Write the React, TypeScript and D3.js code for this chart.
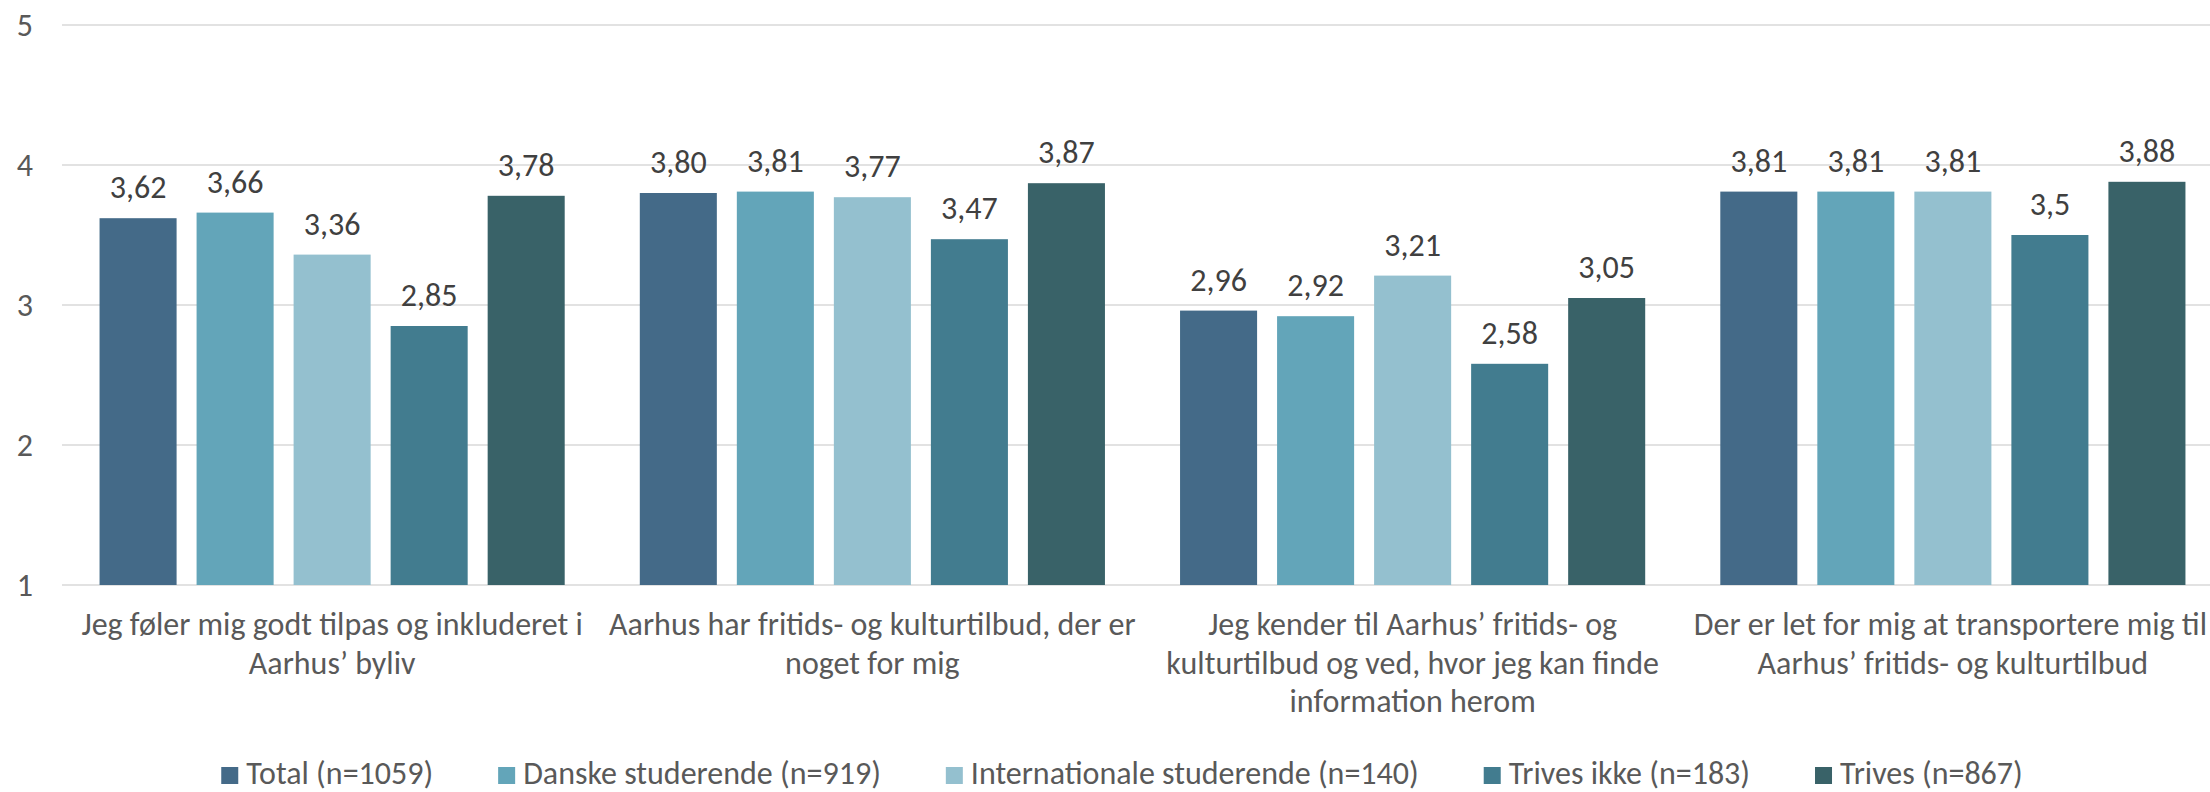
import React, { useEffect, useRef } from "react";
import * as d3 from "d3";

const categories = [
  ["Jeg føler mig godt tilpas og inkluderet i", "Aarhus’ byliv"],
  ["Aarhus har fritids- og kulturtilbud, der er", "noget for mig"],
  ["Jeg kender til Aarhus’ fritids- og", "kulturtilbud og ved, hvor jeg kan finde", "information herom"],
  ["Der er let for mig at transportere mig til", "Aarhus’ fritids- og kulturtilbud"],
];

const seriesNames = [
  "Total (n=1059)",
  "Danske studerende (n=919)",
  "Internationale studerende (n=140)",
  "Trives ikke (n=183)",
  "Trives (n=867)",
];

const seriesColors = ["#446a88", "#63a5b9", "#94c0cf", "#427c8f", "#396268"];

// one array per series, one value per category
const total = [3.62, 3.8, 2.96, 3.81];
const danske = [3.66, 3.81, 2.92, 3.81];
const internationale = [3.36, 3.77, 3.21, 3.81];
const trivesIkke = [2.85, 3.47, 2.58, 3.5];
const trives = [3.78, 3.87, 3.05, 3.88];

// labels as printed on the chart
const totalLabels = ["3,62", "3,80", "2,96", "3,81"];
const danskeLabels = ["3,66", "3,81", "2,92", "3,81"];
const internationaleLabels = ["3,36", "3,77", "3,21", "3,81"];
const trivesIkkeLabels = ["2,85", "3,47", "2,58", "3,5"];
const trivesLabels = ["3,78", "3,87", "3,05", "3,88"];

const yTicks = [1, 2, 3, 4, 5];

const width = 2210;
const height = 792;
const font = "Carlito, Calibri, Lato, sans-serif";
const fontSize = 32;

const App = () => {
  const ref = useRef<SVGSVGElement>(null);

  useEffect(() => {
    const values = [total, danske, internationale, trivesIkke, trives];
    const labels = [totalLabels, danskeLabels, internationaleLabels, trivesIkkeLabels, trivesLabels];

    const svg = d3.select(ref.current);
    svg.selectAll("*").remove();

    const x0 = d3
      .scaleBand<number>()
      .domain(d3.range(categories.length))
      .range([62, 2223]);

    const x1 = d3
      .scaleBand<number>()
      .domain(d3.range(seriesNames.length))
      .range([0, x0.bandwidth()])
      .paddingInner(0.206)
      .paddingOuter(0.387);

    const y = d3.scaleLinear().domain([1, 5]).range([585, 25]);

    // gridlines
    svg
      .append("g")
      .selectAll("line")
      .data(yTicks)
      .join("line")
      .attr("x1", 62)
      .attr("x2", width)
      .attr("y1", (d) => y(d))
      .attr("y2", (d) => y(d))
      .attr("stroke", "#d9d9d9")
      .attr("stroke-width", 1.5);

    // y labels
    svg
      .append("g")
      .selectAll("text")
      .data(yTicks)
      .join("text")
      .attr("x", 33)
      .attr("y", (d) => y(d) + 11)
      .attr("text-anchor", "end")
      .attr("font-family", font)
      .attr("font-size", fontSize)
      .attr("fill", "#595959")
      .text((d) => d);

    // bars + labels
    const groups = svg
      .append("g")
      .selectAll("g")
      .data(d3.range(categories.length))
      .join("g")
      .attr("transform", (c) => `translate(${x0(c)},0)`);

    groups
      .selectAll("rect")
      .data((c) => values.map((s, i) => ({ i, v: s[c] })))
      .join("rect")
      .attr("x", (d) => x1(d.i)!)
      .attr("width", x1.bandwidth())
      .attr("y", (d) => y(d.v))
      .attr("height", (d) => y(1) - y(d.v))
      .attr("fill", (d) => seriesColors[d.i]);

    groups
      .selectAll("text")
      .data((c) => values.map((s, i) => ({ i, v: s[c], t: labels[i][c] })))
      .join("text")
      .attr("x", (d) => x1(d.i)! + x1.bandwidth() / 2)
      .attr("y", (d) => y(d.v) - 20)
      .attr("text-anchor", "middle")
      .attr("font-family", font)
      .attr("font-size", fontSize)
      .attr("fill", "#404040")
      .text((d) => d.t);

    // category labels, each line kept inside the picture like Excel does
    const catLines = categories.flatMap((lines, c) => lines.map((l, i) => ({ l, c, i })));
    const cat = svg
      .append("g")
      .selectAll("text")
      .data(catLines)
      .join("text")
      .attr("text-anchor", "middle")
      .attr("font-family", font)
      .attr("font-size", fontSize)
      .attr("fill", "#595959")
      .attr("y", (d) => 635 + d.i * 38.5)
      .text((d) => d.l);

    cat.attr("x", function (d) {
      const w = (this as SVGTextElement).getComputedTextLength();
      const center = x0(d.c)! + x0.bandwidth() / 2;
      return Math.max(w / 2 + 2, Math.min(center, width - w / 2 - 3));
    });

    // legend
    const legend = svg.append("g");
    const items = legend
      .selectAll("g")
      .data(seriesNames)
      .join("g");

    items
      .append("rect")
      .attr("width", 17)
      .attr("height", 17)
      .attr("y", 767)
      .attr("fill", (d, i) => seriesColors[i]);

    items
      .append("text")
      .attr("x", 25)
      .attr("y", 784)
      .attr("font-family", font)
      .attr("font-size", fontSize)
      .attr("fill", "#595959")
      .text((d) => d);

    const widths: number[] = [];
    items.each(function () {
      const t = d3.select(this).select("text").node() as SVGTextElement;
      widths.push(25 + t.getComputedTextLength());
    });
    const gap = 65;
    const totalWidth = d3.sum(widths) + gap * (widths.length - 1);
    let cx = 1122 - totalWidth / 2;
    items.attr("transform", (d, i) => {
      const tx = cx;
      cx += widths[i] + gap;
      return `translate(${tx},0)`;
    });
  }, []);

  return (
    <svg
      ref={ref}
      width={width}
      height={height}
      style={{ position: "absolute", left: 0, top: 0, background: "#fff" }}
    />
  );
};

export default App;
